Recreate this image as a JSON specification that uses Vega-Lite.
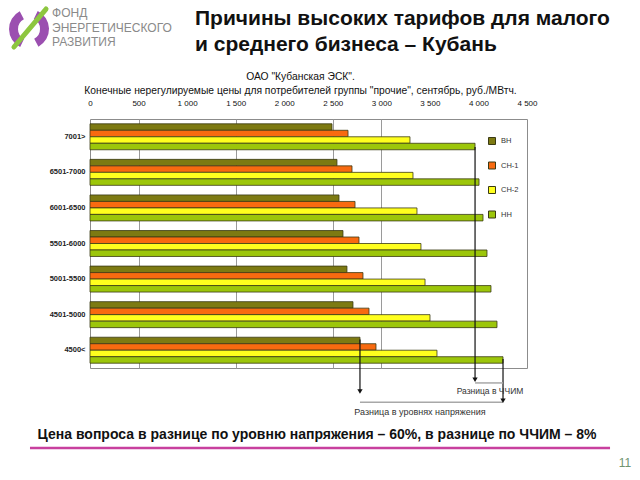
{
  "$schema": "https://vega.github.io/schema/vega-lite/v6.json",
  "width": 437,
  "height": 249,
  "autosize": {"type": "none"},
  "padding": {"left": 90, "top": 119, "right": 113, "bottom": 112},
  "background": "white",
  "config": {
    "font": "Liberation Sans",
    "view": {"stroke": "#8c8c8c", "strokeWidth": 1}
  },
  "resolve": {"scale": {"y": "independent"}},
  "layer": [
    {
      "data": {
        "values": [
          {"range": "7001>", "level": "ВН", "price": 2492},
          {"range": "7001>", "level": "СН-1", "price": 2657},
          {"range": "7001>", "level": "СН-2", "price": 3295},
          {"range": "7001>", "level": "НН", "price": 3965},
          {"range": "6501-7000", "level": "ВН", "price": 2543},
          {"range": "6501-7000", "level": "СН-1", "price": 2698},
          {"range": "6501-7000", "level": "СН-2", "price": 3326},
          {"range": "6501-7000", "level": "НН", "price": 4006},
          {"range": "6001-6500", "level": "ВН", "price": 2564},
          {"range": "6001-6500", "level": "СН-1", "price": 2729},
          {"range": "6001-6500", "level": "СН-2", "price": 3367},
          {"range": "6001-6500", "level": "НН", "price": 4047},
          {"range": "5501-6000", "level": "ВН", "price": 2605},
          {"range": "5501-6000", "level": "СН-1", "price": 2770},
          {"range": "5501-6000", "level": "СН-2", "price": 3408},
          {"range": "5501-6000", "level": "НН", "price": 4088},
          {"range": "5001-5500", "level": "ВН", "price": 2646},
          {"range": "5001-5500", "level": "СН-1", "price": 2811},
          {"range": "5001-5500", "level": "СН-2", "price": 3450},
          {"range": "5001-5500", "level": "НН", "price": 4129},
          {"range": "4501-5000", "level": "ВН", "price": 2708},
          {"range": "4501-5000", "level": "СН-1", "price": 2873},
          {"range": "4501-5000", "level": "СН-2", "price": 3501},
          {"range": "4501-5000", "level": "НН", "price": 4191},
          {"range": "4500<", "level": "ВН", "price": 2780},
          {"range": "4500<", "level": "СН-1", "price": 2945},
          {"range": "4500<", "level": "СН-2", "price": 3573},
          {"range": "4500<", "level": "НН", "price": 4253}
        ]
      },
      "mark": {"type": "bar", "stroke": "#3a3a14", "strokeWidth": 0.8},
      "encoding": {
        "x": {
          "field": "price",
          "type": "quantitative",
          "scale": {"domain": [0, 4500], "nice": false, "zero": true},
          "axis": {
            "orient": "top",
            "values": [0, 500, 1000, 1500, 2000, 2500, 3000, 3500, 4000, 4500],
            "labelExpr": "replace(format(datum.value, ','), ',', ' ')",
            "labelFontSize": 8,
            "labelColor": "#111111",
            "labelPadding": 12,
            "labelFlush": false,
            "ticks": false,
            "domain": false,
            "grid": true,
            "gridColor": "#9a9a9a",
            "gridWidth": 1,
            "gridOpacity": {"condition": {"test": "datum.value == 500 || datum.value == 1500 || datum.value == 2500 || datum.value == 3000", "value": 1}, "value": 0},
            "title": ["ОАО \"Кубанская ЭСК\".", "Конечные нерегулируемые цены для потребителей группы \"прочие\", сентябрь, руб./МВтч."],
            "titleFontSize": 10.3,
            "titleFontWeight": "normal",
            "titleColor": "#111111",
            "titleLineHeight": 14,
            "titlePadding": 4,
            "titleX": 210
          }
        },
        "y": {
          "field": "range",
          "type": "nominal",
          "sort": ["7001>", "6501-7000", "6001-6500", "5501-6000", "5001-5500", "4501-5000", "4500<"],
          "scale": {"paddingInner": 0.27, "paddingOuter": 0.135},
          "axis": {
            "title": null,
            "labelFontSize": 7.5,
            "labelFontWeight": "bold",
            "labelColor": "#222222",
            "labelPadding": 5,
            "ticks": false,
            "domain": false
          }
        },
        "yOffset": {
          "field": "level",
          "type": "nominal",
          "sort": ["ВН", "СН-1", "СН-2", "НН"],
          "scale": {"paddingInner": 0, "paddingOuter": 0}
        },
        "color": {
          "field": "level",
          "type": "nominal",
          "sort": ["ВН", "СН-1", "СН-2", "НН"],
          "scale": {"domain": ["ВН", "СН-1", "СН-2", "НН"], "range": ["#7d7a12", "#f86a10", "#ffff1e", "#9cc60a"]},
          "legend": {
            "title": null,
            "orient": "none",
            "legendX": 398,
            "legendY": 18,
            "symbolType": "square",
            "symbolSize": 49,
            "symbolStrokeColor": "#3a3a14",
            "symbolStrokeWidth": 1,
            "labelFontSize": 7.5,
            "labelColor": "#333333",
            "rowPadding": 12.5,
            "labelOffset": 5
          }
        }
      }
    },
    {
      "data": {"values": [{}]},
      "layer": [
        {
          "mark": {"type": "rule", "color": "#111111", "strokeWidth": 1.2},
          "encoding": {
            "x": {"datum": 3965, "type": "quantitative"},
            "y": {"datum": 0.79, "type": "quantitative", "scale": {"domain": [0, 7], "reverse": true, "nice": false, "zero": false}, "axis": null},
            "y2": {"datum": 7.3}
          }
        },
        {
          "mark": {"type": "rule", "color": "#111111", "strokeWidth": 1.2},
          "encoding": {
            "x": {"datum": 2780, "type": "quantitative"},
            "y": {"datum": 6.2, "type": "quantitative"},
            "y2": {"datum": 7.62}
          }
        },
        {
          "mark": {"type": "rule", "color": "#111111", "strokeWidth": 1.2},
          "encoding": {
            "x": {"datum": 4253, "type": "quantitative"},
            "y": {"datum": 6.75, "type": "quantitative"},
            "y2": {"datum": 7.88}
          }
        },
        {
          "mark": {"type": "rule", "color": "#a8a8a8", "strokeWidth": 1.5},
          "encoding": {
            "x": {"datum": 3965, "type": "quantitative"},
            "x2": {"datum": 4253},
            "y": {"datum": 7.42, "type": "quantitative"}
          }
        },
        {
          "mark": {"type": "rule", "color": "#a8a8a8", "strokeWidth": 1.5},
          "encoding": {
            "x": {"datum": 2780, "type": "quantitative"},
            "x2": {"datum": 4253},
            "y": {"datum": 7.96, "type": "quantitative"}
          }
        },
        {
          "mark": {"type": "point", "shape": "triangle-down", "filled": true, "color": "#111111", "size": 28, "opacity": 1},
          "encoding": {
            "x": {"datum": 3965, "type": "quantitative"},
            "y": {"datum": 7.33, "type": "quantitative"}
          }
        },
        {
          "mark": {"type": "point", "shape": "triangle-down", "filled": true, "color": "#111111", "size": 28, "opacity": 1},
          "encoding": {
            "x": {"datum": 2780, "type": "quantitative"},
            "y": {"datum": 7.66, "type": "quantitative"}
          }
        },
        {
          "mark": {"type": "point", "shape": "triangle-down", "filled": true, "color": "#111111", "size": 28, "opacity": 1},
          "encoding": {
            "x": {"datum": 4253, "type": "quantitative"},
            "y": {"datum": 7.92, "type": "quantitative"}
          }
        },
        {
          "mark": {"type": "text", "text": "Разница в ЧЧИМ", "fontSize": 8.5, "fontWeight": "normal", "fill": "#333333", "baseline": "middle", "align": "center"},
          "encoding": {
            "x": {"datum": 4119, "type": "quantitative"},
            "y": {"datum": 7.65, "type": "quantitative"}
          }
        },
        {
          "mark": {"type": "text", "text": "Разница в уровнях напряжения", "fontSize": 9, "fontWeight": "normal", "fill": "#333333", "baseline": "middle", "align": "center"},
          "encoding": {
            "x": {"datum": 3398, "type": "quantitative"},
            "y": {"datum": 8.24, "type": "quantitative"}
          }
        },
        {
          "mark": {"type": "text", "text": "Цена вопроса в разнице по уровню напряжения – 60%, в разнице по ЧЧИМ – 8%", "fontSize": 14, "fontWeight": "bold", "fill": "#111111", "baseline": "middle", "align": "center"},
          "encoding": {
            "x": {"datum": 2338, "type": "quantitative"},
            "y": {"datum": 8.884, "type": "quantitative"}
          }
        },
        {
          "mark": {"type": "rule", "color": "#c8409e", "strokeWidth": 2.5},
          "encoding": {
            "x": {"datum": -618, "type": "quantitative"},
            "x2": {"datum": 5355},
            "y": {"datum": 9.25, "type": "quantitative"}
          }
        },
        {
          "mark": {"type": "text", "text": "11", "fontSize": 12, "fontWeight": "normal", "fill": "#6f946f", "baseline": "middle", "align": "center"},
          "encoding": {
            "x": {"datum": 5509, "type": "quantitative"},
            "y": {"datum": 9.67, "type": "quantitative"}
          }
        },
        {
          "mark": {"type": "text", "text": ["Причины высоких тарифов для малого", "и среднего бизнеса – Кубань"], "fontSize": 21, "fontWeight": "bold", "lineHeight": 26, "fill": "#111111", "baseline": "top", "align": "left"},
          "encoding": {
            "x": {"datum": 1081, "type": "quantitative"},
            "y": {"datum": -3.13, "type": "quantitative"}
          }
        },
        {
          "mark": {"type": "text", "text": ["ФОНД", "ЭНЕРГЕТИЧЕСКОГО", "РАЗВИТИЯ"], "fontSize": 12, "fontWeight": "normal", "lineHeight": 14.5, "fill": "#8a8a8a", "baseline": "top", "align": "left"},
          "encoding": {
            "x": {"datum": -391, "type": "quantitative"},
            "y": {"datum": -3.12, "type": "quantitative"}
          }
        },
        {
          "mark": {"type": "arc", "radius": 20, "radius2": 11, "theta": 3.6, "theta2": 5.8, "color": "#9b4fb0"},
          "encoding": {
            "x": {"datum": -628, "type": "quantitative"},
            "y": {"datum": -2.53, "type": "quantitative"}
          }
        },
        {
          "mark": {"type": "arc", "radius": 20, "radius2": 11, "theta": 0.45, "theta2": 2.65, "color": "#9b4fb0"},
          "encoding": {
            "x": {"datum": -628, "type": "quantitative"},
            "y": {"datum": -2.53, "type": "quantitative"}
          }
        },
        {
          "mark": {"type": "rule", "color": "#8dc63f", "strokeWidth": 5, "strokeCap": "round"},
          "encoding": {
            "x": {"datum": -783, "type": "quantitative"},
            "x2": {"datum": -453},
            "y": {"datum": -2.024, "type": "quantitative"},
            "y2": {"datum": -3.092}
          }
        }
      ]
    }
  ]
}
